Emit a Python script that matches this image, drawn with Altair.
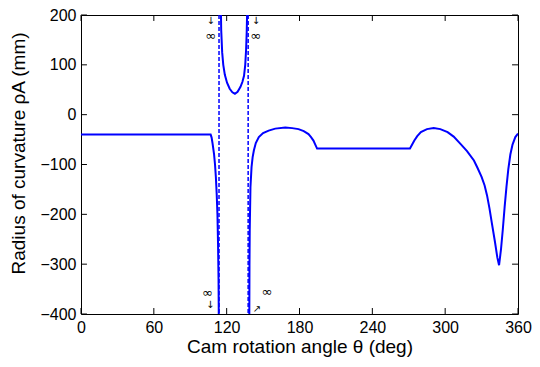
import altair as alt
import pandas as pd

# Curve segments (theta in deg, radius of curvature in mm)
segA_x = [0, 106.8, 107.6, 108.4, 109.6, 110.4, 111.1, 111.8, 112.4, 112.9, 113.3, 113.6]
segA_y = [-40, -40, -46, -58, -79, -100, -125, -160, -200, -260, -330, -440]

segB_x = [115.0, 115.5, 116.3, 117.2, 118.5, 120.3, 122.5, 124.7, 126.8, 129.0, 131.4,
          133.0, 134.3, 135.3, 136.0, 136.5, 136.9, 137.2]
segB_y = [250, 170, 125, 100, 80, 64, 52, 45, 42, 46, 56, 66, 78, 100, 130, 165, 210, 260]

segC_x = [138.6, 138.8, 139.0, 139.6, 140.5, 141.4, 142.4, 144, 146.5, 150, 154.6, 160,
          168.3, 174, 179.2, 183.5, 187.4, 189.5, 191.5, 193, 194.5, 271.0, 272.8, 274.6,
          277, 280, 285, 290.5, 296, 302, 307, 312.8, 318, 323.7, 326.5, 330, 332.5,
          334.5, 336.5, 338.5, 341, 343, 344.4, 346, 347.5, 349, 350.5, 352, 353.7,
          355.5, 357.8, 360]
segC_y = [-440, -300, -232, -145, -105, -85, -72, -57, -45, -37, -32, -28,
          -26, -27, -29, -33, -39, -45, -52, -60, -68, -68, -60, -52,
          -43, -35, -29, -27, -29, -35, -44, -59, -73, -92, -106, -125, -142,
          -162, -188, -218, -255, -287, -302, -270, -230, -185, -145, -110, -80,
          -60, -45, -38]

asymptotes = [113.7, 137.7]

x_ticks = [0, 60, 120, 180, 240, 300, 360]
y_ticks = [-400, -300, -200, -100, 0, 100, 200]

# annotations: infinity signs and little arrows
ann_x = [106.9, 143.8, 104.2, 153.2]
ann_y = [158, 158, -358, -356]
arr_x = [106.9, 144.2, 106.4, 145.0]
arr_y = [188, 188, -382, -390]
arr_t = ["↓", "↓", "↓", "↗"]

rows = []
for name, xs, ys in [("A", segA_x, segA_y), ("B", segB_x, segB_y), ("C", segC_x, segC_y)]:
    for i, (a, b) in enumerate(zip(xs, ys)):
        rows.append({"seg": name, "theta": a, "rho": b, "i": i})
curve = pd.DataFrame(rows)

FONT = "Liberation Sans"
xs = alt.Scale(domain=[0, 360], nice=False, zero=False)
ys = alt.Scale(domain=[-400, 200], nice=False, zero=False)

line = alt.Chart(curve).mark_line(color="#0000ff", strokeWidth=2, clip=True).encode(
    x=alt.X("theta:Q", scale=xs,
            axis=alt.Axis(values=x_ticks, title="Cam rotation angle θ (deg)", grid=False,
                          ticks=False, domain=False, labelFontSize=16, titleFontSize=19,
                          labelPadding=5, titlePadding=2, labelFont=FONT, titleFont=FONT,
                          titleFontWeight="normal", labelColor="black", titleColor="black",
                          labelFlush=False)),
    y=alt.Y("rho:Q", scale=ys,
            axis=alt.Axis(values=y_ticks, title="Radius of curvature ρA (mm)", grid=False,
                          ticks=False, domain=False, labelFontSize=16, titleFontSize=19,
                          labelPadding=5, titlePadding=11, labelFont=FONT, titleFont=FONT,
                          titleFontWeight="normal", labelColor="black", titleColor="black",
                          titleY=138, labelFlush=False)),
    detail="seg:N",
    order="i:Q",
)

asym = alt.Chart(pd.DataFrame({"x": asymptotes, "y1": [200] * 2, "y2": [-400] * 2})).mark_rule(
    color="#0000ff", strokeWidth=1.5, strokeDash=[4, 2]
).encode(x=alt.X("x:Q", scale=xs), y=alt.Y("y1:Q", scale=ys), y2="y2:Q")

# inward ticks
tl_y = 12
tl_x = 4.9
tick_rows = []
for t in x_ticks:
    tick_rows.append({"x1": t, "x2": t, "y1": -400, "y2": -400 + tl_y})
    tick_rows.append({"x1": t, "x2": t, "y1": 200, "y2": 200 - tl_y})
for t in y_ticks:
    tick_rows.append({"x1": 0, "x2": tl_x, "y1": t, "y2": t})
    tick_rows.append({"x1": 360 - tl_x, "x2": 360, "y1": t, "y2": t})
ticks = alt.Chart(pd.DataFrame(tick_rows)).mark_rule(color="black", strokeWidth=1).encode(
    x=alt.X("x1:Q", scale=xs), x2="x2:Q", y=alt.Y("y1:Q", scale=ys), y2="y2:Q")

inf = alt.Chart(pd.DataFrame({"x": ann_x, "y": ann_y, "t": ["∞"] * 4})).mark_text(
    fontSize=13, color="black", font="DejaVu Sans"
).encode(x=alt.X("x:Q", scale=xs), y=alt.Y("y:Q", scale=ys), text="t:N")

arr = alt.Chart(pd.DataFrame({"x": arr_x, "y": arr_y, "t": arr_t})).mark_text(
    fontSize=10, color="black", font="DejaVu Sans"
).encode(x=alt.X("x:Q", scale=xs), y=alt.Y("y:Q", scale=ys), text="t:N")

chart = alt.layer(line, asym, ticks, inf, arr).properties(
    width=437, height=299,
    autosize=alt.AutoSizeParams(type="none"),
    padding={"left": 73, "top": 7, "right": 14, "bottom": 45},
).configure_view(stroke="black", strokeWidth=1)

chart.save("out.html", embed_options={"renderer": "svg", "actions": False})
